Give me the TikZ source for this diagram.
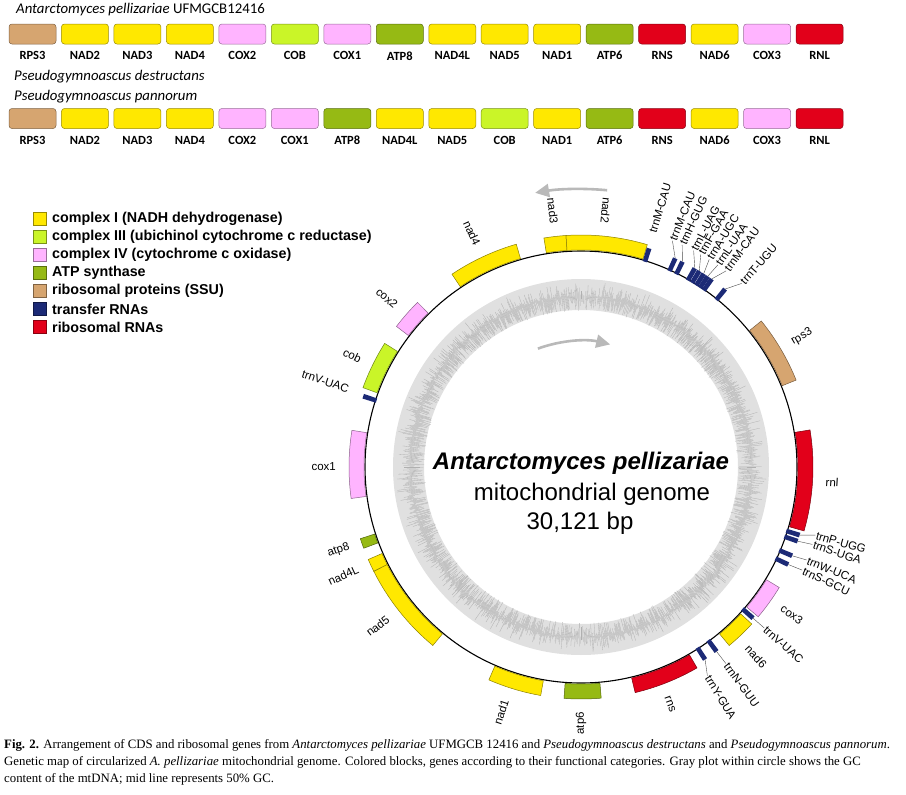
\documentclass[tikz,border=0pt]{standalone}
\usepackage{fontspec}
\setmainfont{Liberation Serif}
\setsansfont{Liberation Sans}
\newfontfamily\calibri{Carlito}
\usetikzlibrary{positioning,arrows.meta}

\definecolor{cnad}{RGB}{255,232,0}
\definecolor{ccob}{RGB}{202,245,40}
\definecolor{ccox}{RGB}{255,180,255}
\definecolor{catp}{RGB}{150,186,20}
\definecolor{crps}{RGB}{214,165,112}
\definecolor{ctrn}{RGB}{28,42,118}
\definecolor{crrn}{RGB}{226,0,26}

\tikzset{
  genbox/.style={draw=#1!60!black, fill=#1, rounded corners=3pt, minimum width=47pt,
    minimum height=20pt, inner sep=0pt, line width=0.5pt},
  boxlab/.style={font=\calibri\bfseries\fontsize{12.5}{14}\selectfont, inner sep=0pt},
  legbox/.style={draw=#1!60!black, fill=#1, minimum size=13pt, inner sep=0pt, line width=0.4pt},
  legtext/.style={font=\sffamily\bfseries\fontsize{14.3}{16}\selectfont, inner sep=0pt},
  glab/.style={font=\sffamily\fontsize{11.5}{13}\selectfont, inner sep=1pt},
  lead/.style={draw=gray!60!black, line width=0.4pt},
  garrow/.style={draw=gray!55, line width=2.6pt, -{Triangle[length=14pt,width=13pt]}},
  gcline/.style={draw=gray!62, line width=0.3pt}
}

% Genblock zwischen zwei Winkeln (im Uhrzeigersinn ab oben)
\newcommand{\gen}[3]{\filldraw[fill=#3, draw=#3!55!black, line width=0.5pt]
  ({#1-90}:217) arc[start angle={#1-90}, end angle={#2-90}, radius=217]
  -- ({#2-90}:232) arc[start angle={#2-90}, end angle={#1-90}, radius=232] -- cycle;}
% tRNA
\newcommand{\trn}[2]{\fill[ctrn]
  ({#1-0.6-90}:215) arc[start angle={#1-0.6-90}, end angle={#1+0.6-90}, radius=215]
  -- ({#1+0.6-90}:229) arc[start angle={#1+0.6-90}, end angle={#1-0.6-90}, radius=229] -- cycle;
  \coordinate (#2) at ({#1-90}:229);}
% Beschriftung rechts / links
\newcommand{\labR}[3]{\node[glab, anchor=west, rotate={90-#1}] (#3) at ({#1-90}:244) {#2};}
\newcommand{\labL}[3]{\node[glab, anchor=east, rotate={270-#1}] (#3) at ({#1-90}:244) {#2};}

\begin{document}
\begin{tikzpicture}[x=1pt, y=-1pt]
\useasboundingbox (0,0) rectangle (906,795);

% Genreihenfolge
\node[anchor=west, inner sep=0pt, font=\calibri\fontsize{14.8}{16}\selectfont] (ttl1) at (16,10)
  {\textit{Antarctomyces pellizariae} UFMGCB12416};
\foreach \g/\c [count=\i] in {RPS3/crps,NAD2/cnad,NAD3/cnad,NAD4/cnad,COX2/ccox,COB/ccob,
    COX1/ccox,ATP8/catp,NAD4L/cnad,NAD5/cnad,NAD1/cnad,ATP6/catp,RNS/crrn,NAD6/cnad,COX3/ccox,RNL/crrn}{
  \node[genbox=\c] (a\i) at ({32.5+(\i-1)*52.47}, 34) {};
  \node[boxlab, below=7pt of a\i] (la\i) {\g};
}
\node[anchor=west, inner sep=0pt, font=\calibri\itshape\fontsize{14.8}{16}\selectfont] (ttl2) at (14,77)
  {Pseudogymnoascus destructans};
\node[anchor=west, inner sep=0pt, font=\calibri\itshape\fontsize{14.8}{16}\selectfont] (ttl3) at (14,97)
  {Pseudogymnoascus pannorum};
\foreach \g/\c [count=\i] in {RPS3/crps,NAD2/cnad,NAD3/cnad,NAD4/cnad,COX2/ccox,COX1/ccox,
    ATP8/catp,NAD4L/cnad,NAD5/cnad,COB/ccob,NAD1/cnad,ATP6/catp,RNS/crrn,NAD6/cnad,COX3/ccox,RNL/crrn}{
  \node[genbox=\c] (b\i) at ({32.5+(\i-1)*52.47}, 118.5) {};
  \node[boxlab, below=7pt of b\i] (lb\i) {\g};
}

% Legende
\foreach \t/\c [count=\i] in {complex I (NADH dehydrogenase)/cnad,
    complex III (ubichinol cytochrome c reductase)/ccob,
    complex IV (cytochrome c oxidase)/ccox, ATP synthase/catp,
    ribosomal proteins (SSU)/crps, transfer RNAs/ctrn, ribosomal RNAs/crrn}{
  \node[legbox=\c] (k\i) at (39.5, {219+(\i-1)*18}) {};
  \node[legtext, anchor=west] (kt\i) at (52, {219+(\i-1)*18}) {\t};
}

% Genkarte
\begin{scope}[shift={(581,467)}]
% GC-Gehalt
\fill[gray!24, even odd rule] (0,0) circle[radius=188] (0,0) circle[radius=157];
\pgfmathsetseed{12}
\foreach \ang in {0,0.25,...,359.9}{
  \pgfmathsetmacro\ri{171-15*rnd}
  \pgfmathsetmacro\ro{171+16*rnd*rnd}
  \draw[gcline] (\ang:\ri) -- (\ang:\ro);
}

\draw[garrow] ({5.4-90}:278) arc[start angle={5.4-90}, end angle={-9.5-90}, radius=278];
\draw[garrow] ({-20-90}:126) arc[start angle={-20-90}, end angle={13.4-90}, radius=126];

\draw[line width=1.1pt] (0,0) circle[radius=216];

\gen{350.8}{356.3}{cnad} \gen{356.3}{376.6}{cnad}
\gen{51}{68}{crps}
\gen{80.8}{106}{crrn}
\gen{121.3}{130.2}{ccox}
\gen{132.6}{140.3}{cnad}
\gen{150}{166.5}{crrn}
\gen{175}{184.2}{catp}
\gen{190}{203.4}{cnad}
\gen{219.7}{243.3}{cnad} \gen{243.3}{246.5}{cnad}
\gen{249.5}{252}{catp}
\gen{262.2}{279.1}{ccox}
\gen{290}{302.2}{ccob}
\gen{307.3}{315.2}{ccox}
\gen{326.2}{343.8}{cnad}

\trn{17.3}{m1} \trn{24.3}{m2} \trn{26.3}{h} \trn{29.8}{l1} \trn{31.1}{f}
\trn{32.4}{a} \trn{33.6}{l2} \trn{34.8}{m3} \trn{39}{t}
\trn{107.3}{p} \trn{108.9}{s1} \trn{112.8}{w} \trn{115.2}{s2}
\trn{131.3}{v2} \trn{143.7}{n} \trn{147.2}{y} \trn{288}{v1}

% Beschriftungen
\labR{17}{trnM-CAU}{lm1}
\labR{22}{trnM-CAU}{lm2}
\labR{24.5}{trnH-GUG}{lh}
\labR{27.5}{trnL-UAG}{ll1}
\labR{29.4}{trnF-GAA}{lf}
\labR{31.7}{trnA-UGC}{la}
\labR{34.1}{trnL-UAA}{ll2}
\labR{36.5}{trnM-CAU}{lm3}
\labR{41.2}{trnT-UGU}{lt}
\labR{59.5}{rps3}{lrps3}
\labR{93.5}{rnl}{lrnl}
\labR{106.2}{trnP-UGG}{lp}
\labR{108.5}{trnS-UGA}{ls1}
\labR{112.4}{trnW-UCA}{lw}
\labR{115}{trnS-GCU}{ls2}
\labR{125}{cox3}{lcox3}
\labR{131.3}{trnV-UAC}{lv2}
\labR{137.3}{nad6}{lnad6}
\labR{143.6}{trnN-GUU}{ln}
\labR{148.8}{trnY-GUA}{ly}
\labR{159.4}{rns}{lrns}
\labL{180}{atp6}{latp6}
\labL{198}{nad1}{lnad1}
\labL{232}{nad5}{lnad5}
\labL{245.5}{nad4L}{lnad4L}
\labL{251}{atp8}{latp8}
\labL{270}{cox1}{lcox1}
\labL{288.5}{trnV-UAC}{lv1}
\labL{296}{cob}{lcob}
\labL{311}{cox2}{lcox2}
\labL{335}{nad4}{lnad4}
\labL{353.7}{nad3}{lnad3}
\labL{365.5}{nad2}{lnad2}

\foreach \k/\l in {m2/lm2,h/lh,l1/ll1,f/lf,a/la,l2/ll2,m3/lm3,t/lt,p/lp,s1/ls1,w/lw,s2/ls2,v2/lv2,n/ln,y/ly}
  \draw[lead] (\k) -- (\l.west);
\end{scope}

\node[font=\sffamily\bfseries\itshape\fontsize{24}{28}\selectfont, inner sep=0pt] (spec) at (581,463)
  {Antarctomyces pellizariae};
\node[font=\sffamily\fontsize{24}{28}\selectfont, inner sep=0pt] (mtg) at (592,494) {mitochondrial genome};
\node[font=\sffamily\fontsize{24}{28}\selectfont, inner sep=0pt] (len) at (580,523) {30,121 bp};

% Legende unten
\node[anchor=north west, align=left, inner sep=0pt, font=\fontsize{12.8}{17}\selectfont] (cap) at (4,739)
  {\textbf{Fig. 2.} Arrangement of CDS and ribosomal genes from \textit{Antarctomyces pellizariae} UFMGCB 12416 and \textit{Pseudogymnoascus destructans} and \textit{Pseudogymnoascus pannorum}.\\
  Genetic map of circularized \textit{A. pellizariae} mitochondrial genome. Colored blocks, genes according to their functional categories. Gray plot within circle shows the GC\\
  content of the mtDNA; mid line represents 50\% GC.};

\end{tikzpicture}
\end{document}
